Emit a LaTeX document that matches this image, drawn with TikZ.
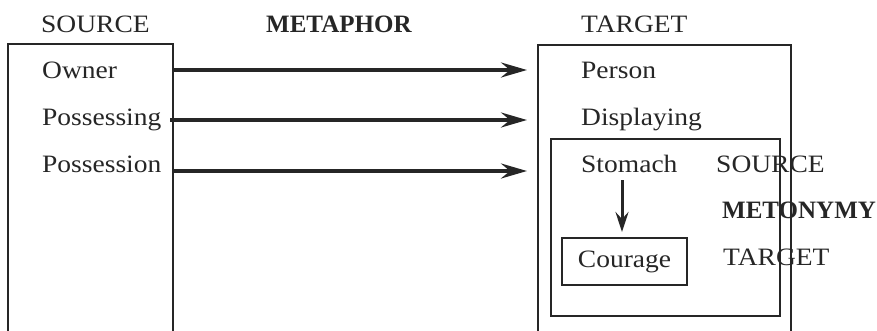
\documentclass[tikz,border=0pt]{standalone}
\usepackage{fontspec}
\setmainfont{Liberation Serif}
\newfontfamily\widserif[FakeStretch=1.1]{Liberation Serif}
\usetikzlibrary{arrows.meta}
\begin{document}
\begin{tikzpicture}[x=1pt,y=-1pt,
  lbl/.style={anchor=base west,inner sep=0pt,font=\widserif\fontsize{25}{30}\selectfont,text=black!85},
  hdr/.style={lbl,font=\fontsize{25}{30}\selectfont\bfseries},
  frame/.style={draw=black!85,line width=2pt},
  maparrow/.style={draw=black!85,line width=3.6pt,-{Stealth[length=26pt,width=15pt,inset=9pt]}},
  downarrow/.style={draw=black!85,line width=3pt,-{Stealth[length=20pt,width=13pt,inset=7pt]}}]
\useasboundingbox (0,0) rectangle (877,330);

% headings
\node[lbl] (srchead) at (41,32) {SOURCE};
\node[hdr] (metaphor) at (266,32) {METAPHOR};
\node[lbl] (tgthead) at (581,32) {TARGET};

% source domain frame (open at the bottom)
\draw[frame] (8,336) -- (8,44) -- (173,44) -- (173,336);
% target domain frame
\draw[frame] (538,336) -- (538,45) -- (791,45) -- (791,336);
% metonymy frame
\draw[frame] (551,139) rectangle (780,316);

% source concepts
\node[lbl] (owner) at (42,78) {Owner};
\node[lbl] (possessing) at (42,125) {Possessing};
\node[lbl] (possession) at (42,172) {Possession};

% target concepts
\node[lbl] (person) at (581,78) {Person};
\node[lbl] (displaying) at (581,125) {Displaying};
\node[lbl] (stomach) at (581,172) {Stomach};
\node[lbl] (msource) at (716,172) {SOURCE};
\node[hdr] (metonymy) at (722,218) {METONYMY};
\node[lbl] (mtarget) at (723,265) {TARGET};
\node[frame,minimum width=125pt,minimum height=47pt,inner sep=0pt,
      font=\widserif\fontsize{25}{30}\selectfont,text=black!85] (courage) at (624.5,261.5) {Courage};

% arrow end points
\coordinate (a1s) at (172,70);
\coordinate (a1e) at (527,70);
\coordinate (a2s) at (170,120);
\coordinate (a2e) at (527,120);
\coordinate (a3s) at (172,171);
\coordinate (a3e) at (527,171);
\coordinate (ds) at (622,180);
\coordinate (de) at (622,232);

% metaphorical mappings
\draw[maparrow] (a1s) -- (a1e);
\draw[maparrow] (a2s) -- (a2e);
\draw[maparrow] (a3s) -- (a3e);
% metonymic mapping
\draw[downarrow] (ds) -- (de);
\end{tikzpicture}
\end{document}
